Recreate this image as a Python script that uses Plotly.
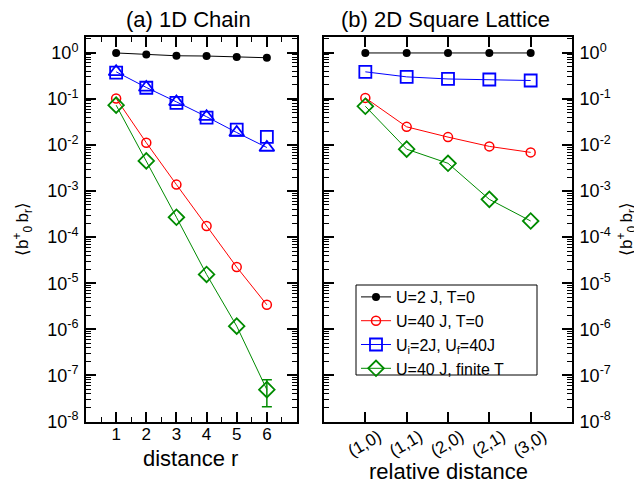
import plotly.graph_objects as go

# ---------------- data ----------------
# (a) 1D chain
r_vals = [1, 2, 3, 4, 5, 6]
chain_U2_T0 = [0.99, 0.92, 0.86, 0.85, 0.81, 0.78]
chain_U40_T0 = [0.102, 0.0112, 0.00138, 1.74e-4, 2.24e-5, 3.4e-6]
chain_quench_sq = [0.37, 0.174, 0.082, 0.039, 0.0216, 0.0149]
chain_quench_tri = [0.386, 0.177, 0.086, 0.041, 0.0186, 0.0088]
chain_U40_finiteT = [0.073, 0.0045, 2.7e-4, 1.55e-5, 1.17e-6, 4.9e-8]
chain_finiteT_err_plus = 3.2e-8
chain_finiteT_err_minus = 2.8e-8

# (b) 2D square lattice
pairs = ["(1,0)", "(1,1)", "(2,0)", "(2,1)", "(3,0)"]
sq_U2_T0 = [0.99, 0.99, 0.99, 0.99, 0.99]
sq_U40_T0 = [0.105, 0.0247, 0.0148, 0.0093, 0.0069]
sq_quench = [0.386, 0.30, 0.27, 0.263, 0.25]
sq_U40_finiteT = [0.069, 0.0081, 0.0040, 6.6e-4, 2.24e-4]

y_tickvals = [1, 1e-1, 1e-2, 1e-3, 1e-4, 1e-5, 1e-6, 1e-7, 1e-8]
y_ticktext = ["10<sup>0</sup>", "10<sup>-1</sup>", "10<sup>-2</sup>", "10<sup>-3</sup>",
              "10<sup>-4</sup>", "10<sup>-5</sup>", "10<sup>-6</sup>", "10<sup>-7</sup>",
              "10<sup>-8</sup>"]

BLACK = "#000000"
RED = "#ff0000"
BLUE = "#0000ff"
GREEN = "#008b00"
FONT = "Liberation Sans, Arial, Helvetica, sans-serif"

fig = go.Figure()

# ---- left panel ----
fig.add_trace(go.Scatter(x=r_vals, y=chain_U2_T0, xaxis="x", yaxis="y", mode="lines+markers",
                         line=dict(color=BLACK, width=1),
                         marker=dict(symbol="circle", size=8, color=BLACK), showlegend=False))
fig.add_trace(go.Scatter(x=r_vals, y=chain_U40_T0, xaxis="x", yaxis="y", mode="lines+markers",
                         line=dict(color=RED, width=1),
                         marker=dict(symbol="circle-open", size=9, color=RED, line=dict(width=1.5)),
                         showlegend=False))
fig.add_trace(go.Scatter(x=r_vals, y=chain_quench_sq, xaxis="x", yaxis="y", mode="markers",
                         marker=dict(symbol="square-open", size=12, color=BLUE, line=dict(width=1.8)),
                         showlegend=False))
fig.add_trace(go.Scatter(x=r_vals, y=chain_quench_tri, xaxis="x", yaxis="y", mode="lines+markers",
                         line=dict(color=BLUE, width=1),
                         marker=dict(symbol="triangle-up-open", size=13, color=BLUE, line=dict(width=1.8)),
                         showlegend=False))
fig.add_trace(go.Scatter(x=r_vals, y=chain_U40_finiteT, xaxis="x", yaxis="y", mode="lines+markers",
                         line=dict(color=GREEN, width=1),
                         marker=dict(symbol="diamond-open", size=12, color=GREEN, line=dict(width=1.8)),
                         showlegend=False))
fig.add_trace(go.Scatter(x=[r_vals[-1]], y=[chain_U40_finiteT[-1]], xaxis="x", yaxis="y", mode="markers",
                         marker=dict(size=1, color="rgba(0,0,0,0)"),
                         error_y=dict(type="data", array=[chain_finiteT_err_plus],
                                      arrayminus=[chain_finiteT_err_minus],
                                      color=GREEN, thickness=1.5, width=5),
                         showlegend=False, hoverinfo="skip"))

# ---- right panel ----
fig.add_trace(go.Scatter(x=pairs, y=sq_U2_T0, xaxis="x2", yaxis="y2", mode="lines+markers",
                         name="U=2 J, T=0",
                         line=dict(color=BLACK, width=1),
                         marker=dict(symbol="circle", size=8, color=BLACK)))
fig.add_trace(go.Scatter(x=pairs, y=sq_U40_T0, xaxis="x2", yaxis="y2", mode="lines+markers",
                         name="U=40 J, T=0",
                         line=dict(color=RED, width=1),
                         marker=dict(symbol="circle-open", size=9, color=RED, line=dict(width=1.5))))
fig.add_trace(go.Scatter(x=pairs, y=sq_quench, xaxis="x2", yaxis="y2", mode="lines+markers",
                         name="U<sub>i</sub>=2J, U<sub>f</sub>=40J",
                         line=dict(color=BLUE, width=1),
                         marker=dict(symbol="square-open", size=12, color=BLUE, line=dict(width=1.8))))
fig.add_trace(go.Scatter(x=pairs, y=sq_U40_finiteT, xaxis="x2", yaxis="y2", mode="lines+markers",
                         name="U=40 J, finite T",
                         line=dict(color=GREEN, width=1),
                         marker=dict(symbol="diamond-open", size=12, color=GREEN, line=dict(width=1.8))))

# the page body has an 8px default margin: figure is 8px smaller, coords shifted by 8
OFF = 8
W, H = 642 - OFF, 485 - OFF


def px(x):
    return (x - OFF) / W


def py(y):
    return 1 - (y - OFF) / H


ydom = [py(421.5), py(37)]

common_axis = dict(showline=True, linecolor=BLACK, linewidth=2, mirror="ticks",
                   ticks="inside", ticklen=10, tickwidth=1.5, tickcolor=BLACK,
                   showgrid=False, zeroline=False, automargin=False)

yaxis_common = dict(common_axis, type="log", range=[-8, 0.342],
                    tickmode="array", tickvals=y_tickvals, ticktext=y_ticktext,
                    tickfont=dict(size=18, family=FONT, color=BLACK),
                    ticklabelstandoff=2,
                    minor=dict(ticks="inside", ticklen=5, tickwidth=1, tickcolor=BLACK,
                               dtick="D1", showgrid=False))


def ann(text, x, y, size=22, angle=0):
    return dict(text=text, x=px(x), y=py(y), xref="paper", yref="paper",
                xanchor="center", yanchor="middle", textangle=angle,
                showarrow=False, font=dict(size=size, family=FONT, color=BLACK))


ytitle = "⟨b<sup>+</sup><sub>0</sub>\u2009b<sub>r</sub>⟩"

fig.update_layout(
    width=W, height=H, template="none",
    margin=dict(l=0, r=0, t=0, b=0, pad=0),
    paper_bgcolor="white", plot_bgcolor="white",
    font=dict(family=FONT, color=BLACK),
    xaxis=dict(common_axis, domain=[px(86), px(297)], range=[0, 7], anchor="y",
               tickmode="array", tickvals=r_vals,
               tickfont=dict(size=17, family=FONT, color=BLACK),
               ticklabelstandoff=-4,
               minor=dict(ticks="inside", ticklen=5, tickwidth=1, tickcolor=BLACK,
                          dtick=0.5, tick0=0, showgrid=False)),
    yaxis=dict(yaxis_common, domain=ydom, anchor="x"),
    xaxis2=dict(common_axis, domain=[px(324), px(572)], type="category", range=[-1, 5],
                anchor="y2", tickangle=-30, ticklabelshift=13, ticklabelstandoff=-3,
                tickfont=dict(size=17, family=FONT, color=BLACK)),
    yaxis2=dict(yaxis_common, domain=ydom, anchor="x2", side="right"),
    legend=dict(x=px(356), y=py(280), xanchor="left", yanchor="top",
                bgcolor="rgba(0,0,0,0)", borderwidth=0,
                font=dict(size=16, family=FONT, color=BLACK),
                tracegroupgap=0, itemwidth=30),
    shapes=[dict(type="rect", xref="paper", yref="paper",
                 x0=px(356), x1=px(537), y0=py(375), y1=py(285),
                 line=dict(color=BLACK, width=1), fillcolor="white", layer="above")],
    annotations=[
        ann("(a) 1D Chain", 188, 20, size=22),
        ann("(b) 2D Square Lattice", 445, 20, size=22),
        ann("distance r", 190, 458),
        ann("relative distance", 448, 471),
        ann(ytitle, 22, 229, size=17, angle=-90),
        ann(ytitle, 626, 229, size=17, angle=-90),
    ],
)

fig.write_html("out.html")
